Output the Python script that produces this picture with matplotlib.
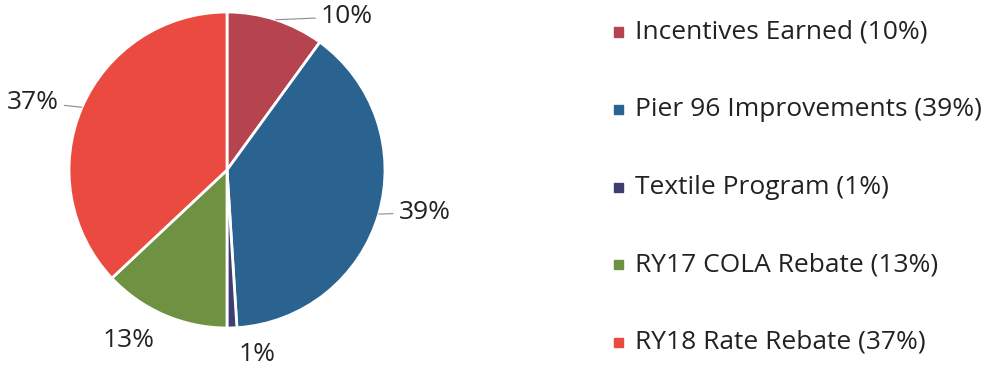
import numpy as np
import matplotlib.pyplot as plt
from matplotlib.patches import Rectangle

plt.rcParams['font.family'] = ['Open Sans', 'DejaVu Sans']

categories = ['Incentives Earned', 'Pier 96 Improvements', 'Textile Program',
              'RY17 COLA Rebate', 'RY18 Rate Rebate']
shares = [10, 39, 1, 13, 37]
colors = ['#B5444F', '#2A6290', '#403D72', '#6F9142', '#EA4A40']

# where each percent label sits (data units, pie radius = 1) and whether it has a leader line
label_pos = [(0.76, 0.97), (1.25, -0.27), (0.19, -1.17), (-0.62, -1.08), (-1.23, 0.43)]
has_leader = [True, True, False, False, True]

W, H = 993, 369
fig = plt.figure(figsize=(W / 100, H / 100), dpi=100)

cx, cy, r = 227, 170, 158
ax = fig.add_axes([(cx - r) / W, (H - cy - r) / H, 2 * r / W, 2 * r / H])
wedges, _ = ax.pie(shares, colors=colors, startangle=90, counterclock=False,
                   radius=1, wedgeprops=dict(edgecolor='white', linewidth=2))
ax.set_xlim(-1, 1)
ax.set_ylim(-1, 1)
ax.set_aspect('equal')
ax.axis('off')

text_color = '#222222'
fs = 19
for w, v, pos, lead in zip(wedges, shares, label_pos, has_leader):
    mid = np.deg2rad((w.theta1 + w.theta2) / 2)
    edge = (np.cos(mid), np.sin(mid))
    if lead:
        ax.annotate(f'{v}%', xy=edge, xytext=pos, ha='center', va='center',
                    fontsize=fs, color=text_color,
                    arrowprops=dict(arrowstyle='-', color='#8c8c8c', lw=0.8,
                                    shrinkA=2, shrinkB=0))
    else:
        ax.text(pos[0], pos[1], f'{v}%', ha='center', va='center',
                fontsize=fs, color=text_color)

# legend drawn by hand
y0, step = 32, 77.5
for i, (name, v, c) in enumerate(zip(categories, shares, colors)):
    y = H - (y0 + i * step)
    fig.patches.append(Rectangle((614 / W, (y - 4.5) / H), 9 / W, 9 / H,
                                 transform=fig.transFigure, color=c))
    fig.text(635 / W, y / H, f'{name} ({v}%)', ha='left', va='center',
             fontsize=fs, color=text_color)

fig.savefig('out.png', dpi=100)
